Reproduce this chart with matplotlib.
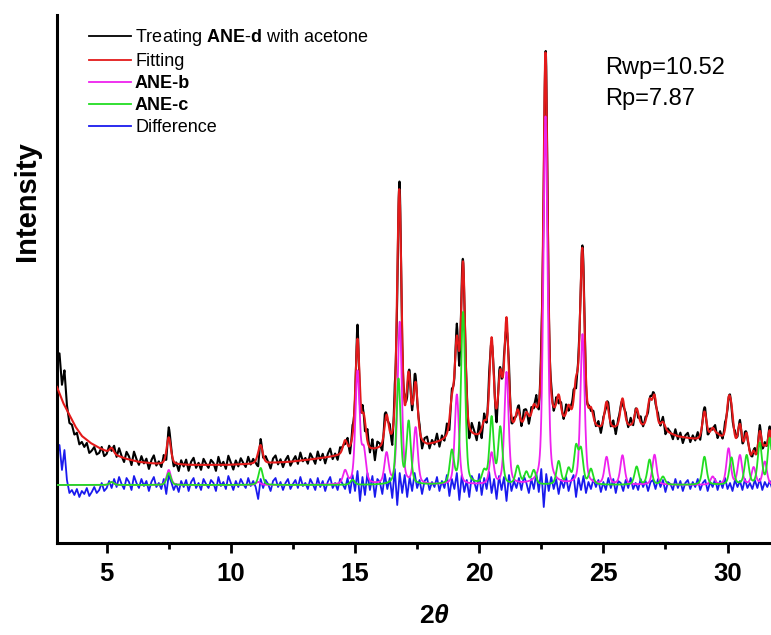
import numpy as np
import matplotlib.pyplot as plt

# --- values (intensity in arbitrary units, 0 = x axis) ---
# ANE-b reflections (2theta, height above component baseline)
b_pos = [5.2, 7.5, 11.1, 14.6, 15.1, 15.35, 16.27, 16.8, 17.44, 19.1, 20.5, 21.1,
         22.67, 24.16, 25.13, 25.77, 27.06, 29.4, 30.04, 30.5, 31.05, 31.5]
b_hgt = [3, 15, 3, 13, 112, 32, 30, 162, 56, 90, 31, 112,
         368, 150, 27, 29, 30, 8, 36, 29, 17, 23]

# ANE-c reflections
c_pos = [5.2, 7.5, 11.2, 14.9, 16.75, 17.16, 18.9, 19.35, 20.2, 20.5, 20.85, 21.55,
         21.9, 22.2, 23.2, 23.6, 23.9, 24.1, 24.5, 26.34, 26.86, 27.4, 29.07, 30.16,
         30.77, 31.3, 31.7]
c_hgt = [3, 12, 17, 5, 105, 62, 32, 172, 12, 66, 56, 18,
         12, 14, 23, 15, 36, 33, 15, 18, 25, 8, 28, 27,
         29, 41, 46]

# fitted background
bg_x = [3.0, 3.25, 3.5, 3.75, 4.0, 4.35, 4.7, 5.2, 5.8, 6.3, 7.0, 8.3, 9.8, 11.0,
        12.4, 13.5, 14.5, 15.5, 16.5, 17.3, 17.9, 18.7, 19.7, 20.5, 21.5, 22.7,
        23.5, 24.2, 25.0, 26.0, 27.0, 28.0, 29.0, 29.6, 30.3, 30.8, 31.2, 31.75]
bg_y = [156, 140, 128, 116, 107, 100, 95, 89, 84, 81, 79, 78, 78, 79,
        81, 84, 87, 90, 94, 100, 96, 101, 103, 104, 110, 121,
        117, 115, 112, 115, 115, 106, 102, 107, 93, 76, 66, 62]

# difference curve (observed - fit), sampled every 0.1 deg from 3.0
diff_x0, diff_dx = 3.0, 0.1
diff = [30, 40, 15, 35, 5, -8,
        -5, -10, -4, -12, -6, -9, -3, -11, -7, -2, -8, -5, 2, -6, -3,
        4, -3, 6, -2, 8, 1, -4, 7, 3, -5, 9, 2, -3, 6, -1, 4, -6, 3, 8, -2,
        2, -4, 6, -9, 10, 3, -5, 1, -7, 4, -2, 5, -6, 3, 7, -3, 2, -5, 6, 1,
        -3, 5, 2, -6, 8, -1, 3, -4, 9, 2, -5, 4, -2, 6, 1, -3, 7, -1, 4, -2,
        -14, 6, -3, 5, 1, -6, 4, 7, -2, 3, -5, 2, 6, -4, 1, 5, -3, 8, -1, 2,
        -4, 6, 1, -5, 7, -2, 4, -6, 3, 8, -3, 2, -5, 6, 1, -4, 7, -8, 10, -6,
        14, -16, 8, -10, 12, -5, 9, -12, 6, 3, -9, 11, -4, 7, -13, 16, -20, 12, -8, 10,
        -12, 8, -6, 12, -3, 5, -9, 4, 7, -5, 3, -2, 8, -6, 4, -3, 10, -11, 6, -4,
        12, -15, 10, -7, 5, -12, 9, 3, -6, 11, -10, 7, -4, 13, -8, 6, -14, 9, -5, 8,
        -16, 10, -6, 4, -3, 7, -5, 9, 2, -8, 6, -4, 12, -7, 16, -22, 11, -6, 8, -4,
        6, -9, 5, -3, 8, -6, 4, 10, -12, 7, -5, 9, -8, 3, -4, 6, -2, 5, -7, 3,
        -5, 7, -3, 6, -8, 4, 2, -6, 5, -3, 7, -4, 2, -5, 6, -2, 4, -6, 3, 5,
        -4, 6, -2, 5, -7, 3, 1, -5, 6, -3, 4, -6, 2, 5, -4, 3, -2, 6, -5, 2,
        5, -6, 3, -2, 6, -5, 4, -3, 7, -4, 2, -6, 5, -2, 4, -5, 6, -3, 2, -4,
        5, -3, 6, -5, 3, -2, 4, -4]

comp_base = 58      # offset of the component / difference curves
r_wp, r_p = 10.52, 7.87

FWHM, ETA = 0.2, 0.4


def profile(x, pos, hgt):
    y = np.zeros_like(x)
    for p, h in zip(pos, hgt):
        d = (x - p) / (FWHM / 2)
        lor = 1.0 / (1.0 + d ** 2)
        gau = np.exp(-np.log(2) * d ** 2)
        y += h * (ETA * lor + (1 - ETA) * gau)
    return y


plt.rcParams["font.family"] = "Liberation Sans"
plt.rcParams["mathtext.fontset"] = "custom"
plt.rcParams["mathtext.rm"] = "Liberation Sans"
plt.rcParams["mathtext.bf"] = "Liberation Sans:bold"
plt.rcParams["mathtext.it"] = "Liberation Sans:bold:italic"

x = np.arange(3.0, 31.8, 0.01)
xd = diff_x0 + diff_dx * np.arange(len(diff))
yb = profile(x, b_pos, b_hgt)
yc = profile(x, c_pos, c_hgt)
fit = np.interp(x, bg_x, bg_y) + yb + yc
obs = fit + np.interp(x, xd, diff)

fig = plt.figure(figsize=(7.71, 6.35), dpi=100)
ax = fig.add_axes([57 / 771, 1 - 543 / 635, 1 - 57 / 771, 528 / 635])

l_obs, = ax.plot(x, obs, color="black", lw=1.5, zorder=2)
l_fit, = ax.plot(x, fit, color="#e31a1a", lw=1.5, zorder=3)
l_diff, = ax.plot(xd, comp_base + np.array(diff), color="#1a1aee", lw=1.3, zorder=2)
l_b, = ax.plot(x, comp_base + yb, color="#ee22ee", lw=1.3, zorder=3)
l_c, = ax.plot(x, comp_base + yc, color="#22dd22", lw=1.3, zorder=4)

ax.set_xlim(3.0, 31.75)
ax.set_ylim(0, 528)
ax.set_yticks([])
for s in ("top", "right"):
    ax.spines[s].set_visible(False)
for s in ("left", "bottom"):
    ax.spines[s].set_linewidth(2.2)

ax.set_xticks([5, 10, 15, 20, 25, 30])
ax.set_xticks([7.5, 12.5, 17.5, 22.5, 27.5], minor=True)
ax.tick_params(axis="x", which="major", length=7, width=2.0, pad=7, labelsize=18.5)
ax.tick_params(axis="x", which="minor", length=4, width=2.0)
for t in ax.get_xticklabels():
    t.set_fontweight("bold")

fig.text(434 / 771, 1 - 616 / 635, r"2$\theta$", ha="center", va="center",
         fontsize=19, fontweight="bold")
fig.text(27 / 771, 1 - 201 / 635, "Intensity", rotation=90, ha="center", va="center",
         fontsize=21, fontweight="bold")

fig.text(605 / 771, 1 - 68 / 635, f"Rwp={r_wp:.2f}", ha="left", va="center", fontsize=17)
fig.text(605 / 771, 1 - 99 / 635, f"Rp={r_p:.2f}", ha="left", va="center", fontsize=17)

labels = [r"Treating $\mathbf{ANE\text{-}d}$ with acetone", "Fitting",
          "ANE-b", "ANE-c", "Difference"]
leg = ax.legend([l_obs, l_fit, l_b, l_c, l_diff], labels, loc="upper left",
                bbox_to_anchor=((89 - 57) / 714, (543 - 27) / 528),
                frameon=False, fontsize=13, handlelength=2.3, handletextpad=0.25,
                labelspacing=0.28, borderpad=0, borderaxespad=0)
for ln in leg.get_lines():
    ln.set_linewidth(1.3)
leg.get_texts()[2].set_fontweight("bold")
leg.get_texts()[3].set_fontweight("bold")

fig.savefig("out.png", dpi=100)
